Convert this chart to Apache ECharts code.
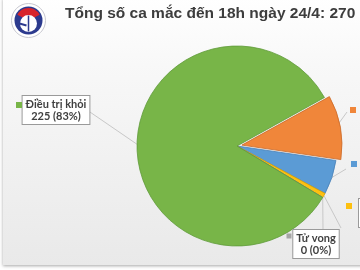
<!DOCTYPE html>
<html><head><meta charset="utf-8">
<script src="https://cdn.jsdelivr.net/npm/echarts@6/dist/echarts.min.js"></script>
<style>html,body{margin:0;padding:0;background:#fff}#c{width:360px;height:270px}</style>
</head><body><div id="c"></div>
<script>
const titleText = 'Tổng số ca mắc đến 18h ngày 24/4: 270';
const categories = ['Dương tính', 'Âm tính lần 1', 'Âm tính ≥ 2 lần', 'Tử vong', 'Điều trị khỏi'];
const values = [28, 15, 2, 0, 225];
const exploded = [true, false, false, false, false];
const colors = ['#f0863a', '#5b9bd5', '#fdc010', '#a5a5a5', '#78b548'];
const borders = ['#c9692a', '#4a82b8', '#d9a200', '#888888', '#5f9a3a'];

// label layout and marker positions, presentation only
const boxPos = [[364, 112, 'left'], [364, 166, 'left'], [359, 213, 'left'], [316, 244, 'center'], [56, 110, 'center']];
const lineEnd = [[347, 112], [346, 169], [341, 228], [323, 230], [87, 110]];
const markPos = [[353, 110], [354, 164], [349, 206], [289, 236], [19, 105]];
const markSize = [6, 6, 6, 5, 6];

const CX = 237, CY = 146, R = 100, START = 29, OFFSET = 5;
const total = values.reduce((a, b) => a + b, 0);
let acc = 0, expCenter = [CX, CY];
values.forEach((v, i) => {
  const a0 = START - acc / total * 360, a1 = START - (acc + v) / total * 360;
  if (exploded[i]) {
    const mid = (a0 + a1) / 2 * Math.PI / 180;
    expCenter = [CX + OFFSET * Math.cos(mid), CY - OFFSET * Math.sin(mid)];
  }
  acc += v;
});
const clear = {color: 'rgba(0,0,0,0)', borderWidth: 0};

const chart = echarts.init(document.getElementById('c'), null, {renderer: 'canvas'});

const mainData = categories.map((n, i) => ({
  name: n, value: values[i],
  itemStyle: exploded[i] ? clear : {color: colors[i], borderColor: borders[i], borderWidth: 0.8}
}));
const expData = categories.map((n, i) => ({
  name: n, value: values[i],
  itemStyle: exploded[i] ? {color: colors[i], borderColor: borders[i], borderWidth: 0.8} : clear
}));
const markData = categories.map((n, i) => ({
  name: n, value: values[i],
  itemStyle: clear,
  label: {rich: {m: {width: markSize[i], height: markSize[i], backgroundColor: colors[i]}}}
}));

chart.setOption({
  animation: false,
  graphic: [
    {type: 'rect', shape: {x: 3, y: -2, width: 360, height: 267}, z: -10,
     style: {fill: new echarts.graphic.LinearGradient(0, 0, 0, 1, [
       {offset: 0, color: '#ffffff'}, {offset: 0.25, color: '#f8f8f8'}, {offset: 1, color: '#e9e9e9'}]),
       shadowColor: 'rgba(0,0,0,0.35)', shadowBlur: 3, shadowOffsetY: 1}},
    {type: 'group', left: 11, top: 3, children: [
      {type: 'circle', shape: {cx: 17, cy: 17, r: 17}, style: {fill: '#ffffff', stroke: '#c8c8d0', lineWidth: 1}},
      {type: 'circle', shape: {cx: 17, cy: 17, r: 14}, style: {fill: '#2c3a8e'}},
      {type: 'sector', shape: {cx: 17, cy: 17, r: 12.5, r0: 0, startAngle: Math.PI * 1.15, endAngle: Math.PI * 1.85}, style: {fill: '#d8242b'}},
      {type: 'circle', shape: {cx: 17, cy: 20, r: 8.5}, style: {fill: '#ffffff'}},
      {type: 'line', shape: {x1: 17, y1: 12, x2: 17, y2: 28}, style: {stroke: '#2c3a8e', lineWidth: 1.5}},
      {type: 'line', shape: {x1: 8, y1: 20, x2: 15, y2: 22}, style: {stroke: '#2c3a8e', lineWidth: 2}}
    ]},
    {type: 'text', left: 65, top: 6, style: {text: titleText, fill: '#3d3d3d',
      font: 'bold 15.5px "Liberation Sans", Arial, sans-serif'}}
  ],
  series: [
    {
      type: 'pie', center: [CX, CY], radius: R, startAngle: START, clockwise: true,
      avoidLabelOverlap: false, silent: true, data: mainData,
      label: {
        show: true, position: 'outside',
        formatter: p => p.name + '\n' + p.value + ' (' + Math.round(p.percent) + '%)',
        fontFamily: 'Lato, "Open Sans", sans-serif', fontWeight: 'bold', fontSize: 11,
        lineHeight: 12, color: '#404040', align: 'center',
        backgroundColor: '#ffffff', borderColor: '#9a9a9a', borderWidth: 1, padding: [2, 3, 2, 3]
      },
      labelLine: {show: true, length: 5, length2: 5, lineStyle: {color: '#c8c8c8', width: 1}},
      labelLayout: function (p) {
        const i = p.dataIndex;
        const start = p.labelLinePoints ? p.labelLinePoints[0] : lineEnd[i];
        return {x: boxPos[i][0], y: boxPos[i][1], align: boxPos[i][2], verticalAlign: 'middle',
          labelLinePoints: [start, lineEnd[i], lineEnd[i]]};
      }
    },
    {
      type: 'pie', center: expCenter, radius: R, startAngle: START, clockwise: true,
      silent: true, data: expData, label: {show: false}, labelLine: {show: false}
    },
    {
      type: 'pie', center: [CX, CY], radius: R, startAngle: START, silent: true,
      avoidLabelOverlap: false, data: markData, z: 5,
      label: {show: true, position: 'outside', formatter: '{m|}', padding: 0},
      labelLine: {show: false},
      labelLayout: function (p) {
        const i = p.dataIndex;
        return {x: markPos[i][0], y: markPos[i][1], align: 'center', verticalAlign: 'middle'};
      }
    }
  ]
});
</script></body></html>
